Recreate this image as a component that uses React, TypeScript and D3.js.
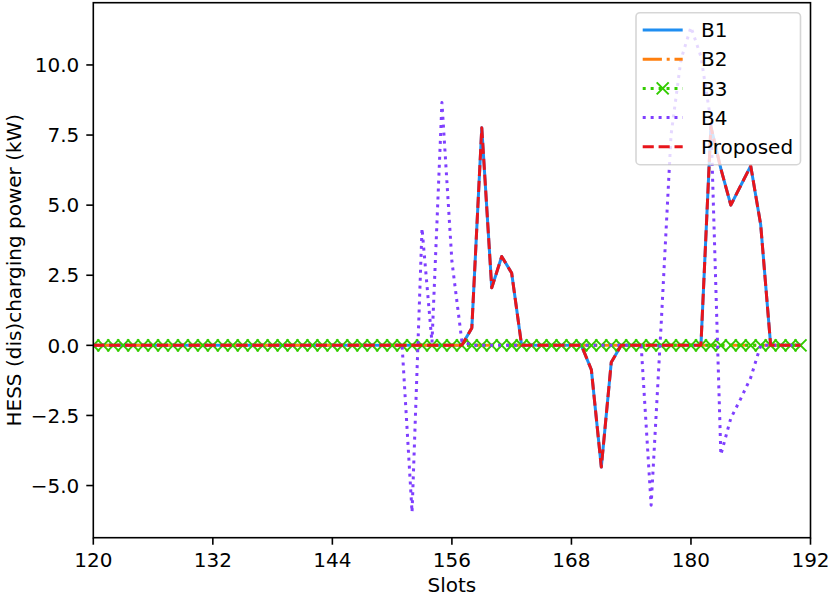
import React from 'react';
import * as d3 from 'd3';

const slots = Array.from({ length: 72 }, (_, i) => 120 + i);

const b1 = [
  0, 0, 0, 0, 0, 0, 0, 0, 0, 0, 0, 0,
  0, 0, 0, 0, 0, 0, 0, 0, 0, 0, 0, 0,
  0, 0, 0, 0, 0, 0, 0, 0, 0, 0, 0, 0,
  0, 0, 0.62, 7.76, 2.05, 3.17, 2.58, 0, 0, 0, 0, 0,
  0, 0, -0.87, -4.34, -0.6, 0, 0, 0, 0, 0, 0, 0,
  0, 0, 7.8, 6.3, 5.0, 5.7, 6.4, 4.3, 0, 0, 0, 0,
];

const b2 = [
  0, 0, 0, 0, 0, 0, 0, 0, 0, 0, 0, 0,
  0, 0, 0, 0, 0, 0, 0, 0, 0, 0, 0, 0,
  0, 0, 0, 0, 0, 0, 0, 0, 0, 0, 0, 0,
  0, 0, 0, 0, 0, 0, 0, 0, 0, 0, 0, 0,
  0, 0, 0, 0, 0, 0, 0, 0, 0, 0, 0, 0,
  0, 0, 0, 0, 0, 0, 0, 0, 0, 0, 0, 0,
];

const b3 = [
  0, 0, 0, 0, 0, 0, 0, 0, 0, 0, 0, 0,
  0, 0, 0, 0, 0, 0, 0, 0, 0, 0, 0, 0,
  0, 0, 0, 0, 0, 0, 0, 0, 0, 0, 0, 0,
  0, 0, 0, 0, 0, 0, 0, 0, 0, 0, 0, 0,
  0, 0, 0, 0, 0, 0, 0, 0, 0, 0, 0, 0,
  0, 0, 0, 0, 0, 0, 0, 0, 0, 0, 0, 0,
];

const b4 = [
  0, 0, 0, 0, 0, 0, 0, 0, 0, 0, 0, 0,
  0, 0, 0, 0, 0, 0, 0, 0, 0, 0, 0, 0,
  0, 0, 0, 0, 0, 0, 0, 0, -5.95, 4.17, 0.1, 8.66,
  3.0, 0.15, 0, 0, 0, 0, 0, 0, 0, 0, 0, 0,
  0, 0, 0, 0, 0, 0, 0, 0, -5.7, 0.7, 7.5, 10.2,
  11.35, 10.3, 8.0, -3.9, -2.6, -1.9, -1.15, 0, 0, 0, 0, 0,
];

const proposed = [
  0, 0, 0, 0, 0, 0, 0, 0, 0, 0, 0, 0,
  0, 0, 0, 0, 0, 0, 0, 0, 0, 0, 0, 0,
  0, 0, 0, 0, 0, 0, 0, 0, 0, 0, 0, 0,
  0, 0, 0.62, 7.76, 2.05, 3.17, 2.58, 0, 0, 0, 0, 0,
  0, 0, -0.87, -4.34, -0.6, 0, 0, 0, 0, 0, 0, 0,
  0, 0, 7.8, 6.3, 5.0, 5.7, 6.4, 4.3, 0, 0, 0, 0,
];

const xTicks = [120, 132, 144, 156, 168, 180, 192];
const yTicks = [-5, -2.5, 0, 2.5, 5, 7.5, 10];
const seriesNames = ['B1', 'B2', 'B3', 'B4', 'Proposed'];

const W = 831;
const H = 597;
const L = 93.3;
const R = 810.5;
const T = 2.7;
const B = 537.7;
const FONT = '"DejaVu Sans", sans-serif';

const styles = [
  { color: '#1f8ef1', dash: '' },
  { color: '#ff7f0e', dash: '19.2,4.8,3,4.8' },
  { color: '#33cc00', dash: '3,4.95' },
  { color: '#7f3fff', dash: '3,4.95' },
  { color: '#e8151b', dash: '11.1,4.8' },
];

export default function App() {
  const x = d3.scaleLinear().domain([120, 192]).range([L, R]);
  const y = d3.scaleLinear().domain([-6.86, 12.22]).range([B, T]);
  const series = [b1, b2, b3, b4, proposed];
  const line = d3
    .line<number>()
    .x((_, i) => x(slots[i]))
    .y((d) => y(d));

  const fmt = (v: number) => v.toFixed(1).replace('-', '\u2212');

  const legX = 636;
  const legY = 12.7;
  const legW = 164.5;
  const legH = 152;
  const rowY = (i: number) => 30 + i * 29.2;

  const xMark = (cx: number, cy: number, s: number, color: string, key: any) => (
    <path
      key={key}
      d={`M${cx - s},${cy - s}L${cx + s},${cy + s}M${cx - s},${cy + s}L${cx + s},${cy - s}`}
      stroke={color}
      strokeWidth={2}
      fill="none"
    />
  );

  return (
    <svg
      width={W}
      height={H}
      style={{ position: 'absolute', left: 0, top: 0, background: '#fff' }}
      fontFamily={FONT}
    >
      <defs>
        <clipPath id="plotclip">
          <rect x={L} y={T} width={R - L} height={B - T} />
        </clipPath>
      </defs>
      <rect x={0} y={0} width={W} height={H} fill="#fff" />
      <g clipPath="url(#plotclip)">
        {series.map((s, k) => (
          <g key={k}>
            <path
              d={line(s) || ''}
              fill="none"
              stroke={styles[k].color}
              strokeWidth={3}
              strokeDasharray={styles[k].dash || undefined}
              strokeLinejoin="round"
              strokeLinecap={k === 0 ? 'square' : 'butt'}
            />
            {k === 2 && s.map((v, i) => xMark(x(slots[i]), y(v), 6, styles[2].color, i))}
          </g>
        ))}
      </g>
      {/* spines */}
      <rect x={L} y={T} width={R - L} height={B - T} fill="none" stroke="#000" strokeWidth={1.6} />
      {/* x ticks */}
      {xTicks.map((t) => (
        <g key={t}>
          <line x1={x(t)} x2={x(t)} y1={B} y2={B + 7} stroke="#000" strokeWidth={1.6} />
          <text x={x(t)} y={B + 29.5} fontSize={20} textAnchor="middle" fill="#000">
            {t}
          </text>
        </g>
      ))}
      {/* y ticks */}
      {yTicks.map((t) => (
        <g key={t}>
          <line x1={L - 7} x2={L} y1={y(t)} y2={y(t)} stroke="#000" strokeWidth={1.6} />
          <text
            x={L - 14}
            y={y(t)}
            dy="0.36em"
            fontSize={20}
            textAnchor="end"
            fill="#000"
          >
            {fmt(t)}
          </text>
        </g>
      ))}
      <text x={(L + R) / 2} y={592} fontSize={20} textAnchor="middle" fill="#000">
        Slots
      </text>
      <text
        transform={`translate(21,${(T + B) / 2}) rotate(-90)`}
        fontSize={20}
        textAnchor="middle"
        fill="#000"
      >
        HESS (dis)charging power (kW)
      </text>
      {/* legend */}
      <g>
        <rect
          x={legX}
          y={legY}
          width={legW}
          height={legH}
          rx={4}
          ry={4}
          fill="#fff"
          fillOpacity={0.8}
          stroke="#cccccc"
          strokeOpacity={0.8}
          strokeWidth={1.6}
        />
        {seriesNames.map((name, k) => (
          <g key={name}>
            <line
              x1={642.7}
              x2={682.7}
              y1={rowY(k)}
              y2={rowY(k)}
              stroke={styles[k].color}
              strokeWidth={3}
              strokeDasharray={styles[k].dash || undefined}
            />
            {k === 2 && xMark(662.7, rowY(k), 6, styles[2].color, 'lm')}
            <text x={701} y={rowY(k)} dy="0.36em" fontSize={20} fill="#000">
              {name}
            </text>
          </g>
        ))}
      </g>
    </svg>
  );
}
